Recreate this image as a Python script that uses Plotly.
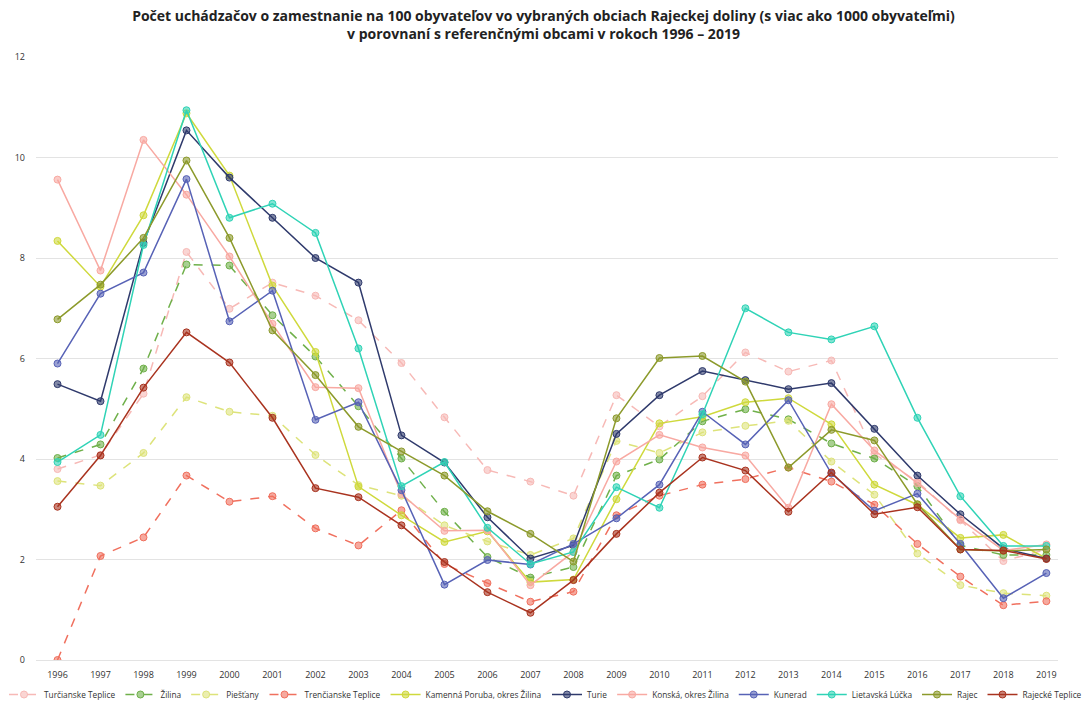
import plotly.graph_objects as go

years = list(range(1996, 2020))

turcianske_teplice = [3.80, 4.08, 5.30, 8.12, 6.99, 7.51, 7.25, 6.76, 5.91, 4.83, 3.78, 3.55, 3.27, 5.27, 4.65, 5.25, 6.12, 5.74, 5.96, 4.10, 3.55, 2.78, 1.97, 2.20]
zilina = [4.02, 4.29, 5.80, 7.87, 7.85, 6.86, 6.04, 5.05, 4.01, 2.95, 2.05, 1.64, 1.85, 3.67, 3.99, 4.75, 4.99, 4.79, 4.31, 4.01, 3.46, 2.28, 2.09, 2.09]
piestany = [3.56, 3.47, 4.12, 5.23, 4.94, 4.86, 4.08, 3.48, 3.27, 2.68, 2.36, 2.09, 2.42, 4.36, 4.12, 4.53, 4.66, 4.76, 3.95, 3.29, 2.12, 1.49, 1.33, 1.28]
trencianske_teplice = [0.00, 2.07, 2.44, 3.67, 3.15, 3.26, 2.62, 2.28, 2.98, 1.91, 1.53, 1.16, 1.36, 2.88, 3.27, 3.49, 3.60, 3.83, 3.55, 3.09, 2.31, 1.66, 1.09, 1.17]
kamenna_poruba = [8.34, 7.43, 8.85, 10.88, 9.64, 7.45, 6.13, 3.45, 2.88, 2.35, 2.56, 1.55, 1.60, 3.20, 4.71, 4.84, 5.13, 5.21, 4.69, 3.49, 3.09, 2.43, 2.49, 2.02]
turie = [5.49, 5.15, 8.30, 10.54, 9.60, 8.80, 8.00, 7.51, 4.47, 3.93, 2.84, 2.02, 2.28, 4.50, 5.27, 5.75, 5.57, 5.39, 5.51, 4.60, 3.67, 2.90, 2.22, 2.02]
konska = [9.56, 7.75, 10.35, 9.26, 8.03, 6.69, 5.43, 5.41, 3.30, 2.57, 2.58, 1.49, 2.15, 3.95, 4.48, 4.23, 4.07, 3.03, 5.09, 4.17, 3.52, 2.80, 2.18, 2.30]
kunerad = [5.90, 7.29, 7.71, 9.57, 6.74, 7.35, 4.78, 5.13, 3.38, 1.50, 1.99, 1.90, 2.31, 2.82, 3.49, 4.94, 4.29, 5.17, 3.71, 2.97, 3.31, 2.31, 1.23, 1.73]
lietavska_lucka = [3.94, 4.48, 8.26, 10.94, 8.80, 9.08, 8.50, 6.20, 3.46, 3.94, 2.63, 1.91, 2.15, 3.44, 3.03, 4.89, 7.00, 6.52, 6.38, 6.64, 4.82, 3.26, 2.27, 2.27]
rajec = [6.78, 7.47, 8.40, 9.94, 8.40, 6.56, 5.67, 4.64, 4.15, 3.67, 2.96, 2.51, 1.96, 4.81, 6.01, 6.05, 5.54, 3.83, 4.58, 4.37, 3.10, 2.20, 2.17, 2.20]
rajecke_teplice = [3.05, 4.07, 5.42, 6.52, 5.92, 4.82, 3.42, 3.24, 2.68, 1.95, 1.35, 0.94, 1.59, 2.51, 3.33, 4.03, 3.77, 2.95, 3.73, 2.90, 3.04, 2.20, 2.18, 2.01]

series = [
    ("Turčianske Teplice", turcianske_teplice, "#f7b9b6", "dash", "legend"),
    ("Žilina", zilina, "#6fb04a", "dash", "legend"),
    ("Piešťany", piestany, "#dde37a", "dash", "legend"),
    ("Trenčianske Teplice", trencianske_teplice, "#f0705e", "dash", "legend"),
    ("Kamenná Poruba, okres Žilina", kamenna_poruba, "#cfd93c", "solid", "legend"),
    ("Turie", turie, "#2f3a6c", "solid", "legend2"),
    ("Konská, okres Žilina", konska, "#f8a9a2", "solid", "legend2"),
    ("Kunerad", kunerad, "#5762b6", "solid", "legend2"),
    ("Lietavská Lúčka", lietavska_lucka, "#2fd3b6", "solid", "legend2"),
    ("Rajec", rajec, "#8c9a2b", "solid", "legend2"),
    ("Rajecké Teplice", rajecke_teplice, "#a9331f", "solid", "legend2"),
]

def rgba(h, a):
    h = h.lstrip("#")
    r, g, b = int(h[0:2], 16), int(h[2:4], 16), int(h[4:6], 16)
    return f"rgba({r},{g},{b},{a})"

fig = go.Figure()
for name, vals, col, dash, lg in series:
    fig.add_trace(go.Scatter(
        x=years, y=vals, name=name, mode="lines+markers", legend=lg,
        line=dict(color=col, width=1.5, dash=dash),
        marker=dict(size=7, color=rgba(col, 0.6), line=dict(color=col, width=1)),
    ))

legend_common = dict(
    orientation="h", y=-0.034, yanchor="top",
    font=dict(size=8.3, color="#333333"), itemwidth=30, tracegroupgap=0,
    bgcolor="rgba(0,0,0,0)",
)

fig.update_layout(
    width=1087, height=709,
    paper_bgcolor="white", plot_bgcolor="white",
    margin=dict(l=36, r=0, t=57, b=47),
    font=dict(family="Open Sans", size=9, color="#333333"),
    title=dict(
        text="<b>Počet uchádzačov o zamestnanie na 100 obyvateľov vo vybraných obciach Rajeckej doliny (s viac ako 1000 obyvateľmi)<br>v porovnaní s referenčnými obcami v rokoch 1996 – 2019</b>",
        x=0.5, xanchor="center", y=0.971, yanchor="top", yref="container",
        font=dict(family="Open Sans", size=14, color="#222222"),
    ),
    xaxis=dict(
        range=[1995.5, 2019.27], tickmode="array", tickvals=years,
        ticktext=[str(y) for y in years], showgrid=False, zeroline=False,
        showline=False, ticks="", ticklabelstandoff=8, automargin=False,
        tickfont=dict(size=9, color="#333333"),
    ),
    yaxis=dict(
        range=[0, 12], dtick=2, showgrid=True, gridcolor="#e3e3e3", gridwidth=1,
        zeroline=True, zerolinecolor="#e3e3e3", zerolinewidth=1,
        showline=False, ticks="", ticklabelstandoff=10, automargin=False,
        tickfont=dict(size=9, color="#333333"),
    ),
    legend=dict(x=0.5, xanchor="right", **legend_common),
    legend2=dict(x=0.5, xanchor="left", **legend_common),
    showlegend=True,
)

fig.write_html(
    "out.html",
    config={"displayModeBar": False},
    post_script="document.body.style.margin='0';document.body.style.overflow='hidden';",
)
